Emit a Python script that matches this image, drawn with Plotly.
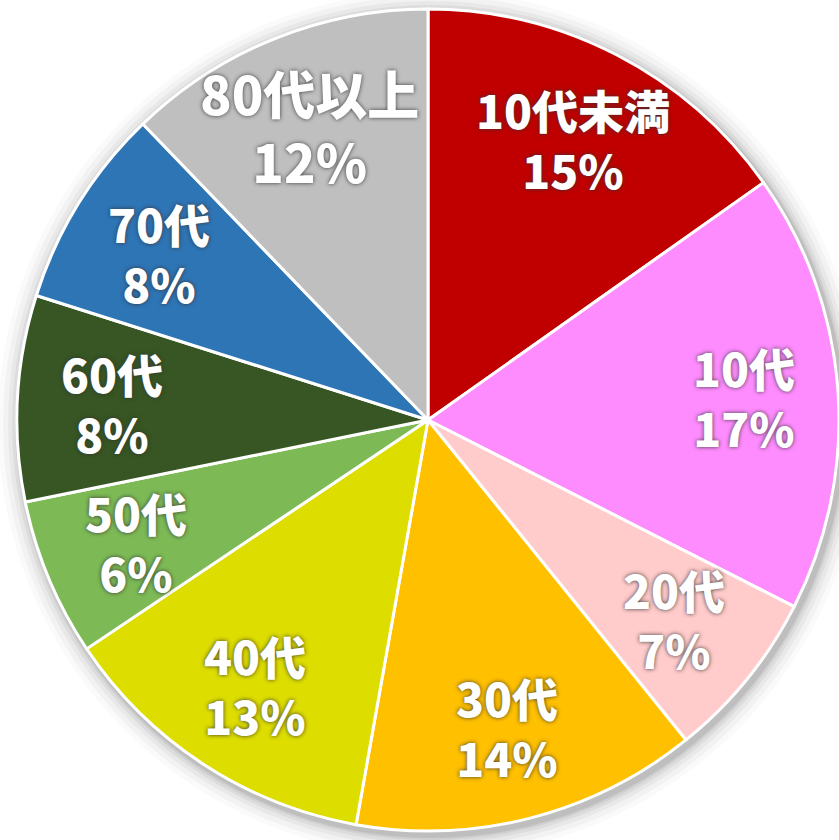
import math
import plotly.graph_objects as go

labels = ["10代未満", "10代", "20代", "30代", "40代", "50代", "60代", "70代", "80代以上"]
values = [15.2, 17.3, 6.7, 13.6, 12.8, 6.2, 8.1, 7.9, 12.2]
colors = ["#C00000", "#FF8CFF", "#FFCBCB", "#FFC000", "#DDDD00",
          "#7DBA55", "#375623", "#2E75B6", "#BFBFBF"]

W, H = 839, 840
cx, cy, r = 428, 420, 411
label_radius = 0.77          # fraction of the pie radius where labels sit
base_size, big_size = 46, 52

fig = go.Figure()

# soft drop shadow behind the pie
shapes = []
for d, op in [(22, 0.02), (17, 0.03), (12, 0.04), (8, 0.05), (5, 0.06), (3, 0.08)]:
    ox, oy = 3, 4
    shapes.append(dict(
        type="circle", xref="paper", yref="paper", layer="below",
        x0=(cx + ox - r - d) / W, x1=(cx + ox + r + d) / W,
        y0=(H - (cy + oy) - r - d) / H, y1=(H - (cy + oy) + r + d) / H,
        fillcolor=f"rgba(0,0,0,{op})", line=dict(width=0),
    ))

fig.add_trace(go.Pie(
    labels=labels,
    values=values,
    sort=False,
    direction="clockwise",
    rotation=0,
    marker=dict(colors=colors, line=dict(color="white", width=3)),
    textinfo="none",
    domain=dict(x=[(cx - r) / W, (cx + r) / W], y=[(H - cy - r) / H, (H - cy + r) / H]),
    showlegend=False,
    hoverinfo="label+percent",
))

# labels placed at each slice's mid-angle, derived from the values
total = sum(values)
annotations = []
cum = 0.0
for lab, v in zip(labels, values):
    mid = (cum + v / 2) / total * 2 * math.pi
    cum += v
    px = cx + label_radius * r * math.sin(mid)
    py = cy - label_radius * r * math.cos(mid)
    pct = round(v / total * 100)
    size = big_size if lab == "80代以上" else base_size
    annotations.append(dict(
        xref="paper", yref="paper", x=px / W, y=(H - py) / H,
        text=f"{lab}<br>{pct}%", showarrow=False, align="center",
        xanchor="center", yanchor="middle",
        font=dict(family="Noto Sans CJK JP", size=size, color="white",
                  weight=900, shadow="0px 0px 4px rgba(50,50,50,0.95)"),
    ))

fig.update_layout(
    width=W, height=H,
    margin=dict(l=0, r=0, t=0, b=0),
    paper_bgcolor="white",
    plot_bgcolor="white",
    shapes=shapes,
    annotations=annotations,
)

fig.write_html("out.html", config={"displayModeBar": False},
               post_script="document.body.style.margin='0';")
